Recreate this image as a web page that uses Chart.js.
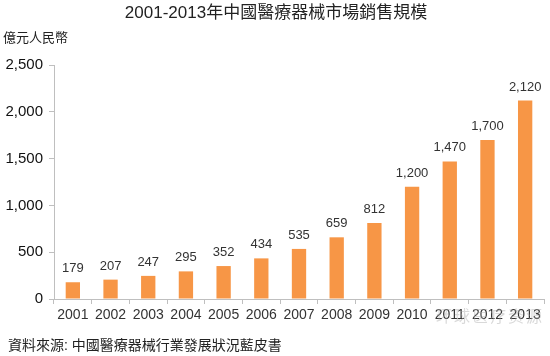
<!DOCTYPE html>
<html><head><meta charset="utf-8">
<script src="https://cdn.jsdelivr.net/npm/chart.js@4"></script>
<style>
html,body{margin:0;padding:0;background:#fff;}
#wrap{position:relative;width:550px;height:356px;overflow:hidden;}
canvas{position:absolute;left:0;top:0;}
.t{position:absolute;white-space:nowrap;font-family:"Liberation Sans","Noto Sans CJK TC",sans-serif;color:#222;line-height:1;}
</style></head>
<body><div id="wrap">
<canvas id="c" width="550" height="356"></canvas>
<div class="t" style="left:0;width:552px;text-align:center;top:4px;font-size:17px;">2001-2013年中國醫療器械市場銷售規模</div>
<div class="t" style="left:3px;top:31px;font-size:13px;">億元人民幣</div>
<div class="t" style="left:8px;top:338px;font-size:14px;">資料來源: 中國醫療器械行業發展狀況藍皮書</div>
<div class="t" style="left:436px;top:309px;font-size:16px;color:rgba(170,170,170,0.45);letter-spacing:2px;">环球医疗资源</div>
</div>
<script>
const categories = ["2001","2002","2003","2004","2005","2006","2007","2008","2009","2010","2011","2012","2013"];
const sales = [179,207,247,295,352,434,535,659,812,1200,1470,1700,2120];
const yTicks = [0,500,1000,1500,2000,2500];

const fmt = v => v.toLocaleString('en-US');
const labelPlugin = {
  id:'labels',
  afterDatasetsDraw(chart){
    const ctx = chart.ctx;
    const meta = chart.getDatasetMeta(0);
    ctx.save();
    ctx.font = '13px "Liberation Sans", sans-serif';
    ctx.fillStyle = '#333';
    ctx.textAlign = 'center';
    ctx.textBaseline = 'bottom';
    meta.data.forEach((bar,i)=>{
      ctx.fillText(fmt(sales[i]), bar.x, bar.y - 7);
    });
    ctx.restore();
  }
};

new Chart(document.getElementById('c'),{
  type:'bar',
  data:{labels:categories,datasets:[{data:sales,backgroundColor:'#F79646',barPercentage:0.38,categoryPercentage:1}]},
  options:{
    responsive:false,animation:false,
    layout:{padding:{top:65,right:6,left:0,bottom:0}},
    plugins:{legend:{display:false},tooltip:{enabled:false}},
    scales:{
      x:{
        grid:{display:true,drawOnChartArea:false,offset:true,tickLength:5,color:'#bfbfbf'},
        border:{color:'#bfbfbf'},
        ticks:{color:'#333',font:{family:'"Liberation Sans", sans-serif',size:14},padding:3,maxRotation:0},
        afterFit(s){s.height=57;}
      },
      y:{
        min:0,max:2500,
        afterBuildTicks(s){s.ticks = yTicks.map(v=>({value:v}));},
        grid:{display:true,drawOnChartArea:false,tickLength:5,color:'#bfbfbf'},
        border:{color:'#bfbfbf'},
        ticks:{color:'#111',font:{family:'"Liberation Sans", sans-serif',size:15},padding:6,callback:v=>fmt(v)},
        afterFit(s){s.width=54;}
      }
    }
  },
  plugins:[labelPlugin]
});
</script>
</body></html>
